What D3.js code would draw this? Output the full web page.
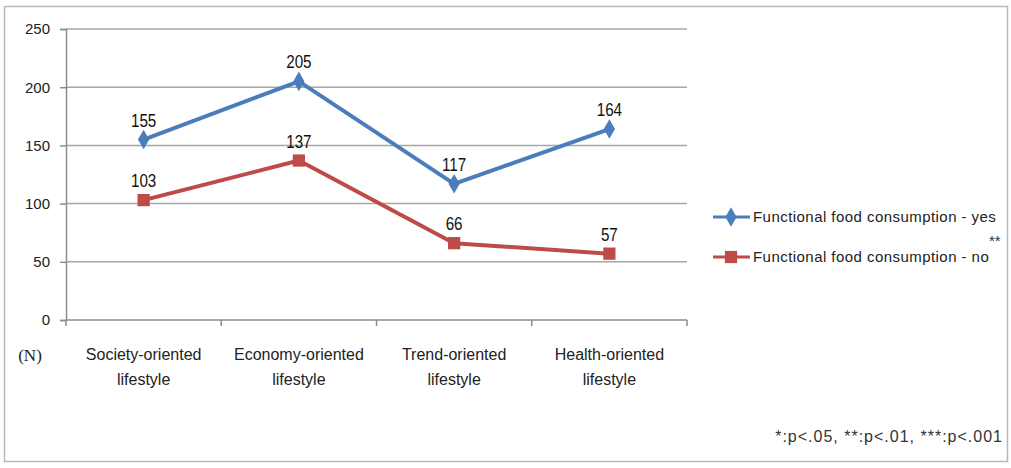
<!DOCTYPE html>
<html>
<head>
<meta charset="utf-8">
<script src="https://cdn.jsdelivr.net/npm/d3@7"></script>
<style>
  body { margin: 0; background: #fff; }
  text { font-family: "Liberation Sans", Arial, sans-serif; }
</style>
</head>
<body>
<div id="chart"></div>
<script>
const categories = ["Society-oriented lifestyle", "Economy-oriented lifestyle", "Trend-oriented lifestyle", "Health-oriented lifestyle"]
const yesValues = [155, 205, 117, 164]
const noValues = [103, 137, 66, 57]
const seriesNames = ["Functional food consumption - yes", "Functional food consumption - no"]
const yTicks = [0, 50, 100, 150, 200, 250]

const W = 1011, H = 468
const svg = d3.select("#chart").append("svg").attr("width", W).attr("height", H)

// outer frame
svg.append("rect")
    .attr("x", 4.5).attr("y", 6.5)
    .attr("width", 1003).attr("height", 455)
    .attr("fill", "#fff")
    .attr("stroke", "#b8b8b8")
    .attr("stroke-width", 1.5)

const plotLeft = 66, plotRight = 687, plotTop = 29, plotBottom = 320

const x = d3.scaleBand().domain(categories).range([plotLeft, plotRight])
const y = d3.scaleLinear().domain([0, 250]).range([plotBottom, plotTop])

// gridlines
svg.append("g")
    .selectAll("line")
    .data(yTicks.filter(d => d > 0))
    .enter()
    .append("line")
    .attr("x1", plotLeft).attr("x2", plotRight)
    .attr("y1", d => y(d)).attr("y2", d => y(d))
    .attr("stroke", "#a6a6a6")
    .attr("stroke-width", 1.5)

// y axis
const yAxis = svg.append("g")
    .attr("transform", `translate(${plotLeft},0)`)
    .call(d3.axisLeft(y).tickValues(yTicks).tickSize(6).tickPadding(10))
yAxis.select(".domain").attr("stroke", "#8c8c8c").attr("stroke-width", 1.5)
yAxis.selectAll(".tick line").attr("stroke", "#8c8c8c").attr("stroke-width", 1.5)
yAxis.selectAll(".tick text")
    .attr("font-size", 15)
    .attr("fill", "#222")
    .style("font-family", "'Liberation Sans', Arial, sans-serif")

// x axis
const xAxis = svg.append("g").attr("transform", `translate(0,${plotBottom})`)
xAxis.append("line")
    .attr("x1", plotLeft).attr("x2", plotRight)
    .attr("stroke", "#8c8c8c").attr("stroke-width", 1.5)
xAxis.selectAll(".xt")
    .data(categories.map(c => x(c)).concat([plotRight]))
    .enter()
    .append("line")
    .attr("x1", d => d).attr("x2", d => d)
    .attr("y1", 0).attr("y2", 6)
    .attr("stroke", "#8c8c8c").attr("stroke-width", 1.5)

const catLabels = svg.append("g")
categories.forEach(c => {
    const words = c.split(" ")
    const t = catLabels.append("text")
        .attr("x", x(c) + x.bandwidth() / 2)
        .attr("y", 360)
        .attr("text-anchor", "middle")
        .attr("font-size", 16)
        .attr("fill", "#222")
    t.append("tspan").attr("x", x(c) + x.bandwidth() / 2).text(words[0])
    t.append("tspan").attr("x", x(c) + x.bandwidth() / 2).attr("dy", 25).text(words[1])
})

svg.append("text")
    .attr("x", 30).attr("y", 361)
    .attr("text-anchor", "middle")
    .attr("font-size", 17)
    .attr("fill", "#222")
    .style("font-family", "'Liberation Serif', serif")
    .text("(N)")

const cx = c => x(c) + x.bandwidth() / 2
const line = d3.line().x(d => cx(d.c)).y(d => y(d.v))

const series = [
    { name: seriesNames[0], values: yesValues, color: "#4a7ebb", shape: d3.symbolDiamond, size: 110 },
    { name: seriesNames[1], values: noValues, color: "#be4b48", shape: d3.symbolSquare, size: 150 }
]

series.forEach(s => {
    const pts = categories.map((c, i) => ({ c: c, v: s.values[i] }))
    svg.append("path")
        .attr("d", line(pts))
        .attr("fill", "none")
        .attr("stroke", s.color)
        .attr("stroke-width", 4)
        .attr("stroke-linejoin", "round")
    svg.append("g")
        .selectAll("path")
        .data(pts)
        .enter()
        .append("path")
        .attr("transform", d => `translate(${cx(d.c)},${y(d.v)})`)
        .attr("d", d3.symbol().type(s.shape).size(s.size))
        .attr("fill", s.color)
    // condensed look for the value labels
    svg.append("g")
        .selectAll("text")
        .data(pts)
        .enter()
        .append("text")
        .attr("transform", d => `translate(${cx(d.c)},${y(d.v) - 13}) scale(0.8,1)`)
        .attr("text-anchor", "middle")
        .attr("font-size", 19)
        .attr("fill", "#111")
        .text(d => d.v)
})

// legend
const legend = svg.append("g")
series.forEach((s, i) => {
    const ly = 217 + i * 40
    legend.append("line")
        .attr("x1", 713).attr("x2", 750)
        .attr("y1", ly).attr("y2", ly)
        .attr("stroke", s.color).attr("stroke-width", 3)
    legend.append("path")
        .attr("transform", `translate(731,${ly})`)
        .attr("d", d3.symbol().type(s.shape).size(s.size))
        .attr("fill", s.color)
    legend.append("text")
        .attr("x", 753).attr("y", ly + 5)
        .attr("font-size", 15)
        .attr("letter-spacing", 0.45)
        .attr("fill", "#222")
        .text(s.name)
})
legend.append("text")
    .attr("x", 989).attr("y", 246)
    .attr("font-size", 15)
    .attr("fill", "#333")
    .text("**")

svg.append("text")
    .attr("x", 1003).attr("y", 442)
    .attr("text-anchor", "end")
    .attr("font-size", 16)
    .attr("fill", "#333")
    .attr("letter-spacing", 1)
    .text("*:p<.05, **:p<.01, ***:p<.001")
</script>
</body>
</html>
